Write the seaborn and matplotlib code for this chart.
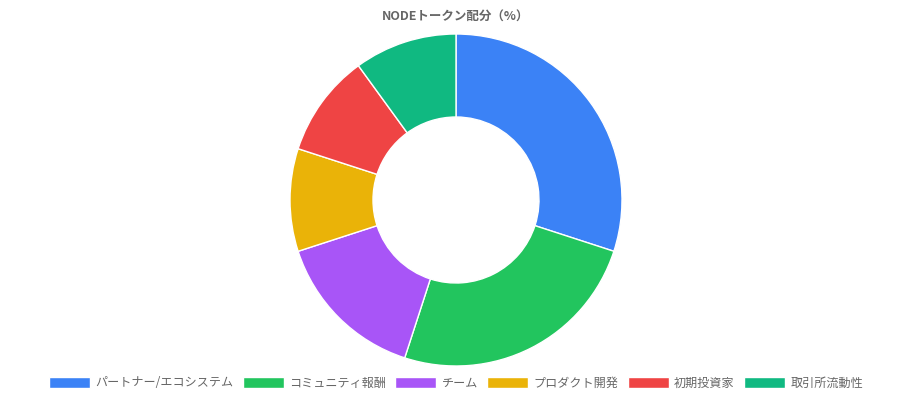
import matplotlib
matplotlib.use("Agg")
import matplotlib.pyplot as plt
import seaborn as sns
from matplotlib.patches import Patch

# data
labels = ["パートナー/エコシステム", "コミュニティ報酬", "チーム", "プロダクト開発", "初期投資家", "取引所流動性"]
values = [30, 25, 15, 10, 10, 10]
colors = ["#3b82f6", "#22c55e", "#a855f7", "#eab308", "#ef4444", "#10b981"]
title = "NODEトークン配分（%）"

sns.set_theme(style="white")
plt.rcParams['font.family'] = ['Noto Sans CJK JP', 'DejaVu Sans']

W, H = 912, 400
fig = plt.figure(figsize=(W / 100, H / 100), dpi=100)
fig.patch.set_facecolor("white")

r = 166
cx, cy = 456, 200
ax = fig.add_axes([(cx - r) / W, (H - cy - r) / H, 2 * r / W, 2 * r / H])
ax.pie(values, colors=colors, startangle=90, counterclock=False, radius=1,
       wedgeprops=dict(width=0.5, edgecolor="white", linewidth=1))
ax.set_xlim(-1, 1)
ax.set_ylim(-1, 1)
ax.set_aspect("equal")
ax.axis("off")

fig.text(cx / W, 1 - 17 / H, title, ha="center", va="center",
         fontsize=9, fontweight="bold", color="#666666")

handles = [Patch(facecolor=c, edgecolor="white", linewidth=1) for c in colors]
leg = fig.legend(handles, labels, loc="center", bbox_to_anchor=(0.5, 17 / H),
                 ncol=6, frameon=False, fontsize=8.7, handlelength=3.4, handleheight=1.0,
                 handletextpad=0.45, columnspacing=0.75, labelcolor="#666666")

fig.savefig("out.png", dpi=100)
